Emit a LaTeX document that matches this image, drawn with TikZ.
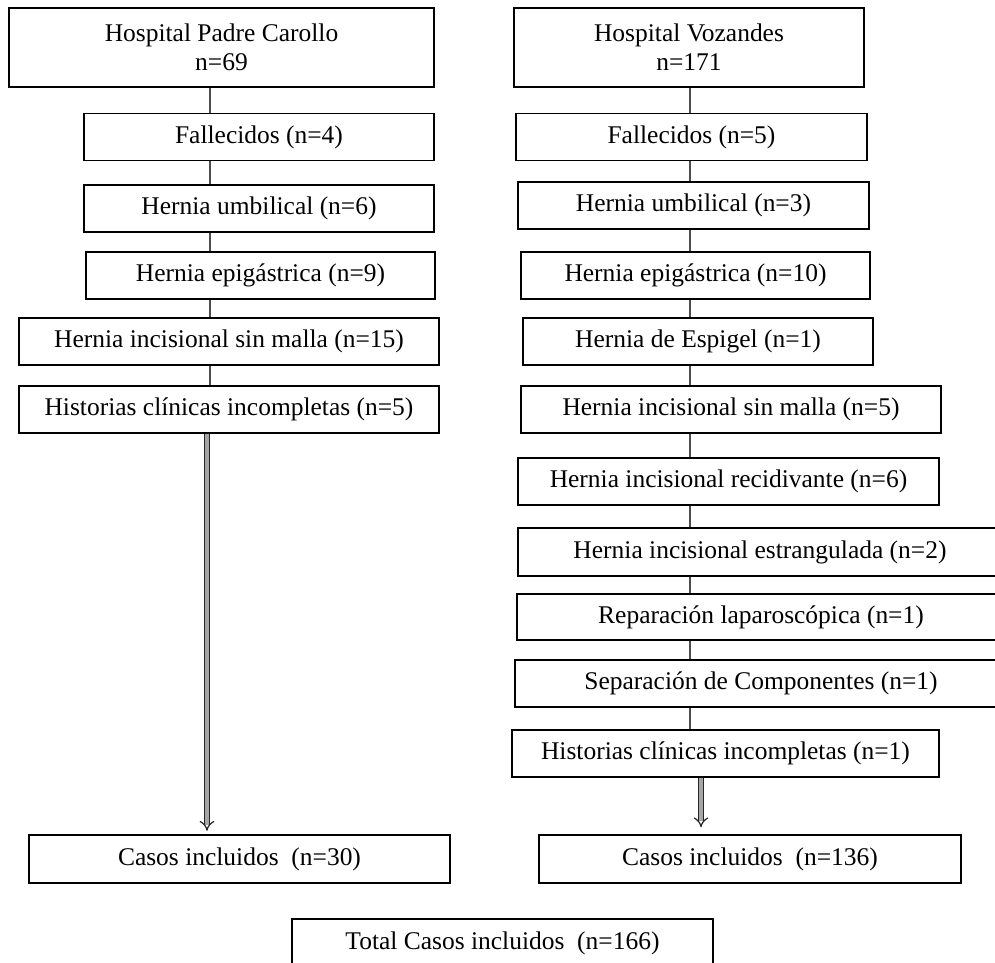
\documentclass[tikz,border=0pt]{standalone}
\usepackage{fontspec}
\setmainfont{Liberation Serif}
\usetikzlibrary{arrows,positioning}

\begin{document}
\begin{tikzpicture}[x=0.02cm,y=-0.02cm,
    font=\fontsize{14.5}{16.5}\selectfont,
    box/.style={draw,line width=0.8pt,minimum width=7cm,minimum height=0.94cm,align=center,inner sep=0pt},
    link/.style={draw=black!70,line width=0.6pt},
    pass/.style={draw=black!85,double=black!35,double distance=2.2pt,line width=0.7pt,-implies}]
\useasboundingbox (0,0) rectangle (995,963);
\clip (0,0) rectangle (995,963);
% Padre Carollo
\node[box,minimum width=8.5cm,minimum height=1.58cm] (pc_0) at (221.5,47.5) {Hospital Padre Carollo\\n=69};
\node[box] (pc_1) at (259,137) {Fallecidos (n=4)};
\node[box] (pc_2) at (259,208.5) {Hernia umbilical (n=6)};
\node[box,minimum width=6.98cm] (pc_3) at (260.5,275.5) {Hernia epigástrica (n=9)};
\node[box,minimum width=8.4cm] (pc_4) at (229,341.5) {Hernia incisional sin malla (n=15)};
\node[box,minimum width=8.4cm] (pc_5) at (229,409.5) {Historias clínicas incompletas (n=5)};
\node[box,minimum width=8.42cm,minimum height=0.96cm] (pc_in) at (239.5,859) {Casos incluidos~ (n=30)};
% Vozandes
\node[box,minimum height=1.58cm] (vz_0) at (689,47.5) {Hospital Vozandes\\n=171};
\node[box,minimum width=7.02cm] (vz_1) at (691.5,137) {Fallecidos (n=5)};
\node[box,minimum width=7.02cm] (vz_2) at (693.5,205.5) {Hernia umbilical (n=3)};
\node[box,minimum width=6.98cm] (vz_3) at (695.5,275.5) {Hernia epigástrica (n=10)};
\node[box] (vz_4) at (698,341.5) {Hernia de Espigel (n=1)};
\node[box,minimum width=8.4cm] (vz_5) at (731,409.5) {Hernia incisional sin malla (n=5)};
\node[box,minimum width=8.42cm] (vz_6) at (728.5,481.5) {Hernia incisional recidivante (n=6)};
\node[box,minimum width=9.68cm,minimum height=0.96cm] (vz_7) at (760,552) {Hernia incisional estrangulada (n=2)};
\node[box,minimum width=9.76cm,minimum height=0.92cm] (vz_8) at (761,617) {Reparación laparoscópica (n=1)};
\node[box,minimum width=9.84cm] (vz_9) at (761,683.5) {Separación de Componentes (n=1)};
\node[box,minimum width=8.54cm] (vz_10) at (725.5,753.5) {Historias clínicas incompletas (n=1)};
\node[box,minimum width=8.44cm,minimum height=0.96cm] (vz_in) at (750,859) {Casos incluidos~ (n=136)};
% total
\node[box,minimum width=8.42cm,minimum height=0.96cm] (tot) at (502.5,943) {Total Casos incluidos~ (n=166)};

\coordinate (lsp) at (210,0);
\coordinate (rsp) at (690,0);
\foreach \i [count=\j] in {0,...,4}
    \path[link] (pc_\i.south -| lsp) -- (pc_\j.north -| lsp);
\foreach \i [count=\j] in {0,...,9}
    \path[link] (vz_\i.south -| rsp) -- (vz_\j.north -| rsp);
\coordinate (la) at (207,0);
\coordinate (ra) at (701,0);
\path[pass] (pc_5.south -| la) -- ([yshift=2pt]pc_in.north -| la);
\path[pass] (vz_10.south -| ra) -- ([yshift=4pt]vz_in.north -| ra);
\end{tikzpicture}
\end{document}
